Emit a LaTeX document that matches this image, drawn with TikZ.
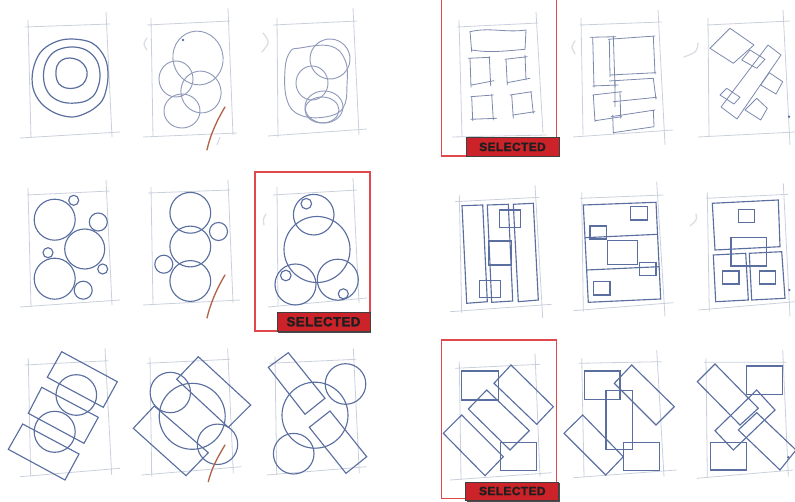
\documentclass[tikz,border=0pt]{standalone}
\usepackage{fontspec}
\newfontfamily\badgefont{Liberation Sans}[LetterSpace=3,FakeBold=1.6]
\definecolor{shapec}{HTML}{5A6EA0}
\definecolor{guidec}{HTML}{CACFDC}
\definecolor{sketchc}{HTML}{7C89AE}
\definecolor{faintc}{HTML}{DCDEE4}
\definecolor{redline}{HTML}{E0484E}
\definecolor{badgered}{HTML}{CC2229}
\definecolor{brush}{HTML}{B0654A}
\begin{document}
\begin{tikzpicture}[x=0.75pt,y=-0.75pt,
  guide/.style={draw=guidec, line width=0.6pt},
  shp/.style={draw=shapec, line width=0.85pt},
  sketch/.style={draw=sketchc, line width=0.6pt, line cap=round, line join=round},
  soft/.style={draw=sketchc!85, line width=0.7pt},
  ring/.style={draw=shapec, line width=0.9pt},
  faint/.style={draw=faintc, line width=1pt, line cap=round},
  brushstroke/.style={draw=brush, line width=1pt, line cap=round},
  selframe/.style={draw=redline, line width=1pt},
  badge/.style={fill=badgered, draw=black!75, line width=0.5pt, inner sep=0pt,
    minimum width=69.75pt, minimum height=13.7pt, text=black!88,
    font=\badgefont\bfseries\fontsize{9}{9}\selectfont},
  bigbadge/.style={badge, font=\badgefont\bfseries\fontsize{10}{10}\selectfont},
  shadowbox/.style={fill=black!70},
  dotmark/.style={fill=shapec}
]
\useasboundingbox (0,0) rectangle (795,502);
\clip (0,0) rectangle (795,502);

% ================= guide frames =================
% row 1
\draw[guide] (25,27)--(110,24) (20,138)--(120,132) (28,20)--(31,138) (106,12)--(112,137);
\draw[guide] (147,25)--(230,21) (143,137)--(237,133) (151,18)--(153,137) (228,8)--(233,135);
\draw[guide] (273,25)--(357,21) (268,136)--(367,129) (277,18)--(278,137) (353,8)--(359,135);
\draw[guide] (457,27)--(538,23) (452,137)--(547,135) (459,20)--(462,137) (536,12)--(543,133);
\draw[guide] (580,25)--(662,22) (573,137)--(673,130) (581,18)--(583,135) (658,10)--(665,145);
\draw[guide] (707,25)--(790,21) (698,137)--(795,132) (708,18)--(709,137) (783,10)--(790,145);
% row 2
\draw[guide] (27,195)--(110,191) (20,307)--(120,300) (28,188)--(31,307) (106,180)--(112,305);
\draw[guide] (148,193)--(230,190) (143,305)--(240,300) (151,187)--(153,305) (228,180)--(233,303);
\draw[guide] (273,195)--(357,190) (268,307)--(367,298) (277,187)--(278,305) (353,178)--(359,303);
\draw[guide] (455,201.7)--(539.3,197.3) (450,311.7)--(551.7,304.3) (459.3,195)--(461.7,313) (535,185)--(542.7,318);
\draw[guide] (580,198.3)--(663.3,195) (573.3,310.7)--(673.3,302.7) (581.7,192.3)--(583.3,311.7) (656.7,181.7)--(665,316.7);
\draw[guide] (706,198.3)--(788.3,194.3) (698.3,310)--(795,301.7) (707.3,192.3)--(709.3,311.7) (783.3,183.3)--(790,316.7);
% row 3
\draw[guide] (25,365)--(108.3,360.7) (20,476.7)--(120,468.3) (28.3,358.3)--(30.7,476.7) (105,348.3)--(111.7,475);
\draw[guide] (146.7,363.3)--(230,359.3) (141.7,475)--(241.7,466.7) (150,357.3)--(151.7,476.7) (227.7,348.3)--(233.3,473.3);
\draw[guide] (269.3,363.3)--(356,359.3) (266.7,475)--(366.7,466.7) (275,356.7)--(276.7,475) (353.3,348.3)--(359.3,473.3);
\draw[guide] (455,368.3)--(540,364.3) (450,480)--(551.7,472.7) (459.3,361.7)--(461,480) (535,353.3)--(540,476.7);
\draw[guide] (578.3,363.3)--(661.7,361.7) (573.3,477.7)--(676.7,470) (581.7,358.3)--(584,476.7) (656.7,350)--(664,476.7);
\draw[guide] (704,362.3)--(786.7,362.3) (696.7,478.3)--(793.3,470) (706,358.3)--(707.3,476.7) (782.7,350)--(788.3,476.7);

% faint crescents
\draw[faint] (147,38) .. controls (143,44) .. (147,50);
\draw[faint] (263,33) .. controls (270,42) .. (262,52);
\draw[faint] (575,41) .. controls (571,47) .. (575,54);
\draw[faint] (698,43) .. controls (697,52) .. (684,57);
\draw[faint] (266,214) .. controls (263,219) .. (264,225);
\draw[faint] (696,214) .. controls (697,220) .. (690,226);

% ================= row 1 =================
% panel 1: concentric rings
\draw[ring] plot[smooth cycle, tension=0.6] coordinates {(70,39) (92,43) (105,58) (108,77) (104,97) (96,107) (84,114) (71,117) (55,113) (41,103) (33,88) (33,70) (40,53) (53,43)};
\draw[ring] plot[smooth cycle, tension=0.6] coordinates {(70,47) (86,50) (97,61) (100,77) (96,92) (88,100) (76,103) (62,102) (50,95) (44,82) (45,65) (54,52)};
\draw[ring] plot[smooth cycle, tension=0.6] coordinates {(70,58) (80,61) (86,68) (87,76) (83,84) (75,88) (66,88) (59,84) (56,76) (57,66) (62,60)};

% panel 2: overlapping circles
\draw[soft] (198,58) ellipse [x radius=25, y radius=27, rotate=15];
\draw[soft] (176,79) ellipse [x radius=17, y radius=18];
\draw[soft] (201,92) ellipse [x radius=20, y radius=21, rotate=20];
\draw[soft] (182,111) ellipse [x radius=18, y radius=17];
\fill[dotmark] (183,40) circle (1.3);
\draw[brushstroke] (225,107) .. controls (216,122) and (210,136) .. (207,150);
\draw[guide] (220,137)--(217,145);

% panel 3: loose ovals
\draw[soft] plot[smooth cycle, tension=0.7] coordinates {(300,48) (330,46) (345,60) (347,85) (343,108) (325,117) (300,115) (287,100) (285,70) (290,52)};
\draw[soft] (330,59) ellipse [x radius=20, y radius=20, rotate=20];
\draw[soft] (312,83) ellipse [x radius=16, y radius=17];
\draw[soft] (324,107) ellipse [x radius=19, y radius=16];
\draw[soft] (322,110) ellipse [x radius=17, y radius=13];

% panel 4: sketched boxes (selected)
\draw[sketch] (470,31.7) -- (471.7,51.7);
\draw[sketch] (470,31.7) .. controls (490,27) and (505,33) .. (526,30) -- (525,49.3);
\draw[sketch] (471.7,50) .. controls (490,53) and (505,51) .. (525,49.3);
\draw[sketch] (468.3,58.3)--(490,57.3) (470,58.3)--(471,87.3) (489.3,56.7)--(490.7,86) (471.7,85)--(494,80.7);
\draw[sketch] (505,59.3)--(527.3,56.7) (506,59.3)--(507.3,85) (525,55)--(526,80) (507.3,82.7)--(530,78.3);
\draw[sketch] (470.7,96.7)--(493.3,95) (471.7,96.7)--(472.7,120.7) (491.7,94.3)--(493.3,120) (470.7,119.3)--(496.7,118.3);
\draw[sketch] (510,95)--(531.7,91.7) (511.7,95)--(513.3,118.3) (531,91.7)--(533.3,113.3) (512.7,115)--(535,111.7);

% panel 5: sketched overlapping boxes
\draw[sketch] (590,37.3)--(616,36.7) (592.7,37.3)--(594,87.3) (613.3,36)--(615,87.3) (592.7,86)--(618.3,85);
\draw[sketch] (608.3,39.3)--(655,36) (609.3,39.3)--(610,76.7) (653.3,36)--(655,74) (610,75)--(656,72.7);
\draw[sketch] (609.3,81)--(653.3,78.3) (653.3,78.3)--(656,99.3) (613.3,101.7)--(656.7,97.3) (615,80)--(615,106.7);
\draw[sketch] (592.7,95)--(621.7,91.7) (593.3,95)--(595,121.7) (620,91.7)--(620.7,118.3) (595,120.7)--(621.7,116.7);
\draw[sketch] (611,116.7)--(655,110) (612.7,115)--(613.3,133.3) (653.3,110)--(654,126) (613.3,132.7)--(654,126.7);

% panel 6: sketched rotated squares
\draw[sketch] (730,28.3)--(754,45)--(733.3,63.3)--(710,48.3)--cycle;
\draw[sketch] (768,45)--(781,55)--(737,119)--(721,107)--cycle;
\draw[sketch] (750,50)--(765,59.3)--(756.7,68.3)--(741.7,60)--cycle;
\draw[sketch] (769.3,72.7)--(782.7,81.7)--(776,94)--(760.7,85)--cycle;
\draw[sketch] (726.7,88.3)--(740,97.3)--(734,104)--(720,95)--cycle;
\draw[sketch] (756.7,98.3)--(767.3,108.3)--(760.7,120)--(745,110)--cycle;
\fill[dotmark] (789,116.7) circle (1.3);

% ================= row 2 =================
% panel 7
\draw[shp] (54.7,219.7) circle (20.5);
\draw[shp] (73.7,200.3) circle (5);
\draw[shp] (98.3,222) circle (9);
\draw[shp] (84.7,249) circle (20);
\draw[shp] (48,252.7) circle (5);
\draw[shp] (54.7,278.7) circle (20.5);
\draw[shp] (102.7,269) circle (5);
\draw[shp] (83.2,290.2) circle (9);

% panel 8
\draw[shp] (190.3,212.8) circle (20.4);
\draw[shp] (190.3,246.5) circle (20.4);
\draw[shp] (190.3,281) circle (20.4);
\draw[shp] (218.5,231.5) circle (9);
\draw[shp] (163.8,264.2) circle (9);
\draw[brushstroke] (225,275) .. controls (216,290) and (210,305) .. (207,318);

% panel 9 (selected)
\draw[shp] (313.7,214.7) circle (20.3);
\draw[shp] (306.3,203.7) circle (5.3);
\draw[shp] (317,249.5) circle (33);
\draw[shp] (295.5,284.5) circle (20.5);
\draw[shp] (285.8,275.5) circle (5.3);
\draw[shp] (337.8,279.7) circle (20.5);
\draw[shp] (343.3,293.8) circle (5);

% panel 10
\draw[shp] (462,205.7)--(482.7,205)--(487.3,301.7)--(466.7,303.3)--cycle;
\draw[shp] (487.3,205)--(508.3,204.3)--(512.7,301)--(491.7,302.3)--cycle;
\draw[shp] (513.3,204.3)--(533.3,203.3)--(538.3,300)--(518.3,301.7)--cycle;
\draw[shp] (499.3,210) rectangle (520.7,227.3);
\draw[shp] (488.3,241) rectangle (511.7,265);
\draw[shp] (479.3,280.7) rectangle (500.7,297.7);

% panel 11
\draw[shp] (583.3,205)--(656,202.3)--(660.7,299)--(588.3,302.3)--cycle;
\draw[shp] (585,237.7)--(657.7,234.3);
\draw[shp] (586.7,270)--(659.3,266.7);
\draw[shp] (630.7,206.7) rectangle (647.3,220);
\draw[shp] (590,226) rectangle (606.7,239);
\draw[shp] (607.3,240.7) rectangle (637.3,264.3);
\draw[shp] (639.3,262.3) rectangle (656,275.7);
\draw[shp] (593.3,281.7) rectangle (610,295);

% panel 12
\draw[shp] (712.3,203.3)--(778.3,200)--(780,246.7)--(715,250)--cycle;
\draw[shp] (738.3,209.3) rectangle (754.3,222.3);
\draw[shp] (731,237.3) rectangle (766.7,266);
\draw[shp] (713.3,255)--(745.7,253.3)--(748.3,300)--(715.7,301.7)--cycle;
\draw[shp] (749.3,253.3)--(781.7,251.7)--(785,298.3)--(751.7,300)--cycle;
\draw[shp] (722.7,271) rectangle (739,284);
\draw[shp] (759.3,271) rectangle (775.7,284);
\fill[dotmark] (789.3,290) circle (1.3);

% ================= row 3 =================
% panel 13
\draw[shp] (61.7,351.7)--(117.3,381.7)--(103.3,407.3)--(47.3,377.3)--cycle;
\draw[shp] (41.7,387.3)--(98.3,417.3)--(84,443.3)--(28.3,413.3)--cycle;
\draw[shp] (22.7,424)--(79,454)--(65,480)--(8.3,449.3)--cycle;
\draw[shp] (76.3,395) circle (20.3);
\draw[shp] (54.7,431.8) circle (20.5);

% panel 14
\draw[shp] (176.7,379.3)--(198.3,356.7)--(250.7,405)--(228.3,427.3)--cycle;
\draw[shp] (133.3,428.3)--(154.3,406)--(208.3,452.7)--(186,475.7)--cycle;
\draw[shp] (192.2,416.3) circle (33);
\draw[shp] (170.3,392.5) circle (20.2);
\draw[shp] (217.5,444.3) circle (20.2);
\draw[brushstroke] (225,445) .. controls (217,458) and (211,470) .. (208.3,481.7);

% panel 15
\draw[shp] (268.3,367.3)--(288.3,352.7)--(325,398.3)--(305,414.3)--cycle;
\draw[shp] (309.3,427.3)--(330,411)--(366.7,456.7)--(346,473.3)--cycle;
\draw[shp] (315,415.2) circle (33);
\draw[shp] (345.5,384) circle (20.3);
\draw[shp] (293.7,453.7) circle (20.3);

% panel 16 (selected)
\draw[shp] (461.7,371) rectangle (498.3,400);
\draw[shp] (500.7,442.3) rectangle (536.7,470.7);
\draw[shp] (494,383.3)--(511,365)--(553.3,406.7)--(536.7,424.3)--cycle;
\draw[shp] (468.3,409)--(486.7,390)--(529.3,430.7)--(510,450)--cycle;
\draw[shp] (443.3,433.3)--(461.7,415)--(503.3,456.7)--(485,475.7)--cycle;

% panel 17
\draw[shp] (584.3,371) rectangle (620,399.3);
\draw[shp] (606,390.7) rectangle (632.3,449.3);
\draw[shp] (623.3,442.3) rectangle (659.3,470.7);
\draw[shp] (614.3,383.3)--(631.7,365)--(674.3,406.7)--(656,425)--cycle;
\draw[shp] (564,433.3)--(582.7,415)--(623.3,456.7)--(605.7,475)--cycle;

% panel 18
\draw[shp] (746.7,366) rectangle (782.7,394.3);
\draw[shp] (710.7,442.3) rectangle (746.7,470);
\draw[shp] (697.3,381.7)--(715,364)--(758.3,408.3)--(740,425)--cycle;
\draw[shp] (715,430.7)--(756.7,390)--(775,410)--(733.3,450)--cycle;
\draw[shp] (738.3,430)--(756.7,412.7)--(796,450)--(780,470)--cycle;
\fill[dotmark] (788.3,457.3) circle (1.3);

% ================= selection marks =================
\draw[selframe] (441.7,-2) rectangle (556.7,156);
\fill[shadowbox] (467.2,139) rectangle (560.2,157.5);
\node[badge] (b1) at (512.5,146.9) {SELECTED};

\draw[selframe] (255,172) rectangle (370,331);
\fill[shadowbox] (278.2,313.3) rectangle (371.2,332.5);
\node[bigbadge] (b2) at (323.5,321.7) {SELECTED};

\draw[selframe] (441.7,340) rectangle (556.7,498.3);
\fill[shadowbox] (466.9,483) rectangle (559.9,501.5);
\node[badge] (b3) at (512.3,491) {SELECTED};
\end{tikzpicture}
\end{document}
